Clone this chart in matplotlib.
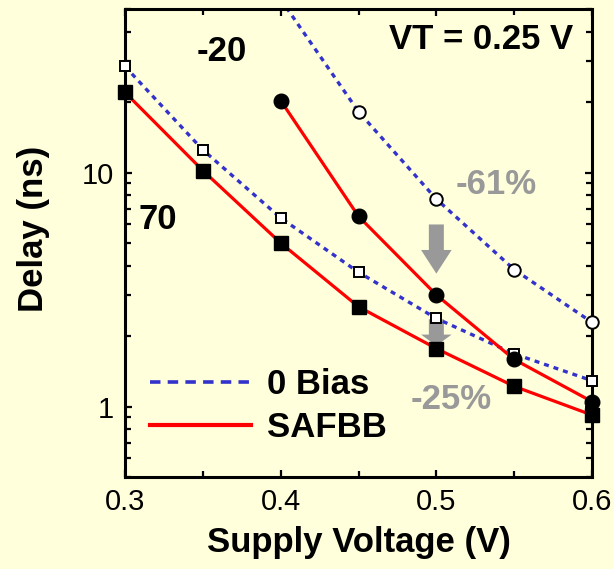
import matplotlib
matplotlib.use("Agg")
import matplotlib.pyplot as plt
from matplotlib.lines import Line2D
from matplotlib.ticker import LogLocator, MultipleLocator, NullFormatter, FixedFormatter, FixedLocator

plt.rcParams['font.family'] = ['Liberation Sans', 'DejaVu Sans']

# Supply voltage sweep (V)
vdd = [0.3, 0.35, 0.4, 0.45, 0.5, 0.55, 0.6]
# lower pair of curves (square markers)
zero_bias_low = [28.4, 12.5, 6.4, 3.75, 2.38, 1.68, 1.29]
safbb_low = [22.0, 10.2, 5.0, 2.67, 1.77, 1.22, 0.92]
# upper pair of curves (circle markers)
vdd_hi = [0.4, 0.45, 0.5, 0.55, 0.6]
zero_bias_high = [55.0, 18.2, 7.7, 3.85, 2.29]
safbb_high = [20.3, 6.5, 3.0, 1.59, 1.05]

# arrows at 0.5 V: (tail, tip) delays
arrow_big = (6.0, 3.7)
arrow_small = (2.36, 1.82)

BG = '#FFFFDC'
BLUE = '#3333CC'
RED = '#FF0000'
GRAY = '#999999'
YMAX = 50

fig = plt.figure(figsize=(6.14, 5.69), dpi=100, facecolor=BG)
ax = fig.add_axes([0.2036, 0.1617, 0.7606, 0.8225], facecolor=BG)

dot = (0, (1.5, 1.5))

# 0 Bias (dotted blue)
ax.plot(vdd, zero_bias_low, color=BLUE, lw=2.4, ls=dot, zorder=2)
ax.plot(vdd, zero_bias_low, ls='none', marker='s', ms=6.5, mfc='white',
        mec='black', mew=1.4, zorder=5, clip_on=False)
ax.plot(vdd_hi, zero_bias_high, color=BLUE, lw=2.4, ls=dot, zorder=2)
# markers only for the points inside the plotted range
vis = [(x, y) for x, y in zip(vdd_hi, zero_bias_high) if y <= YMAX]
ax.plot([p[0] for p in vis], [p[1] for p in vis], ls='none', marker='o', ms=9,
        mfc='white', mec='black', mew=1.4, zorder=5, clip_on=False)

# SAFBB (solid red)
ax.plot(vdd, safbb_low, color=RED, lw=2.3, zorder=3)
ax.plot(vdd, safbb_low, ls='none', marker='s', ms=9.5, color='black',
        zorder=6, clip_on=False)
ax.plot(vdd_hi, safbb_high, color=RED, lw=2.3, zorder=3)
ax.plot(vdd_hi, safbb_high, ls='none', marker='o', ms=10.5, color='black',
        zorder=6, clip_on=False)

# gray reduction arrows
ax.annotate('', xy=(0.5, arrow_big[1]), xytext=(0.5, arrow_big[0]),
            arrowprops=dict(arrowstyle='simple,head_length=17,head_width=22,tail_width=10.8',
                            mutation_scale=1, color=GRAY, lw=0, shrinkA=0, shrinkB=0),
            zorder=1)
ax.annotate('', xy=(0.5, arrow_small[1]), xytext=(0.5, arrow_small[0]),
            arrowprops=dict(arrowstyle='simple,head_length=8,head_width=22,tail_width=10.8',
                            mutation_scale=1, color=GRAY, lw=0, shrinkA=0, shrinkB=0),
            zorder=1)

ax.set_yscale('log')
ax.set_xlim(0.3, 0.6)
ax.set_ylim(0.5, YMAX)

ax.xaxis.set_major_locator(FixedLocator([0.3, 0.4, 0.5, 0.6]))
ax.xaxis.set_major_formatter(FixedFormatter(['0.3', '0.4', '0.5', '0.6']))
ax.xaxis.set_minor_locator(MultipleLocator(0.05))
ax.yaxis.set_major_locator(FixedLocator([1, 10]))
ax.yaxis.set_major_formatter(FixedFormatter(['1', '10']))
ax.yaxis.set_minor_locator(LogLocator(base=10, subs=range(2, 10)))
ax.yaxis.set_minor_formatter(NullFormatter())

ax.tick_params(which='both', direction='in', top=True, right=True, width=1.6)
ax.tick_params(which='major', length=5, labelsize=21, pad=8)
ax.tick_params(which='minor', length=4)
for s in ax.spines.values():
    s.set_linewidth(2.2)

ax.set_xlabel('Supply Voltage (V)', fontsize=25, fontweight='bold', labelpad=7)
ax.set_ylabel('Delay (ns)', fontsize=25, fontweight='bold')
ax.yaxis.set_label_coords(-0.16, 0.53)

# annotations
ax.text(0.208, 0.910, '-20', transform=ax.transAxes, fontsize=25, fontweight='bold',
        ha='center', va='center')
ax.text(0.071, 0.551, '70', transform=ax.transAxes, fontsize=25, fontweight='bold',
        ha='center', va='center')
ax.text(0.762, 0.934, 'VT = 0.25 V', transform=ax.transAxes, fontsize=25,
        fontweight='bold', ha='center', va='center')
ax.text(0.794, 0.626, '-61%', transform=ax.transAxes, fontsize=25, fontweight='bold',
        color=GRAY, ha='center', va='center')
ax.text(0.698, 0.165, '-25%', transform=ax.transAxes, fontsize=25, fontweight='bold',
        color=GRAY, ha='center', va='center')

handles = [Line2D([], [], color=BLUE, lw=2.6, ls=(0, (2.9, 2.0))),
           Line2D([], [], color=RED, lw=3.0)]
leg = ax.legend(handles, ['0 Bias', 'SAFBB'], loc='lower left',
                bbox_to_anchor=(0.054, 0.07), frameon=False, borderpad=0,
                borderaxespad=0, handlelength=2.9, handletextpad=0.45,
                labelspacing=0.3, prop={'size': 25, 'weight': 'bold'})

fig.savefig('out.png', dpi=100, facecolor=BG)
